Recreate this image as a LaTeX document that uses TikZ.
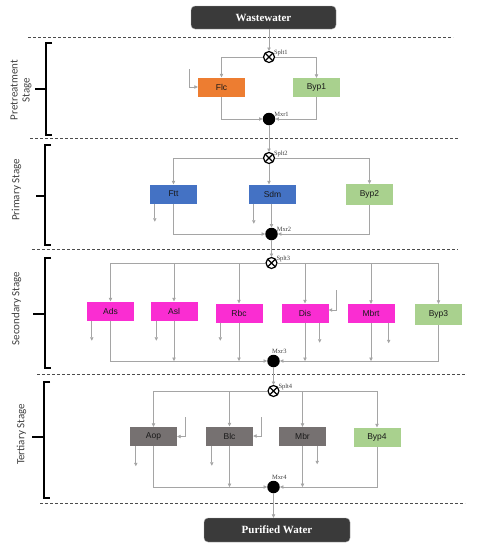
\documentclass[tikz,border=0pt]{standalone}
\usepackage{fontspec}
\setmainfont{Liberation Serif}
\setsansfont{Liberation Sans}
\newfontfamily\stagefont{Carlito}
\usetikzlibrary{arrows.meta,calc}
\definecolor{flow}{RGB}{165,165,165}
\definecolor{termfill}{RGB}{58,58,58}
\definecolor{orangeC}{RGB}{237,125,49}
\definecolor{greenC}{RGB}{169,209,142}
\definecolor{blueC}{RGB}{68,114,196}
\definecolor{pinkC}{RGB}{250,45,210}
\definecolor{grayC}{RGB}{118,113,113}
\begin{document}
\begin{tikzpicture}[x=1pt,y=-1pt,
 arr/.style={draw=flow, line width=0.65pt, -{Triangle[width=3.4pt,length=3.4pt]}},
 proc/.style={rectangle, minimum width=47pt, minimum height=19pt, inner sep=0pt, font=\sffamily\fontsize{8.5}{9}\selectfont, text=black!90},
 term/.style={rectangle, rounded corners=4pt, fill=termfill, draw=gray!70, line width=0.4pt, text=white, font=\bfseries\fontsize{11}{12}\selectfont},
 splitter/.style={circle, draw=black, fill=white, line width=1.2pt, minimum size=11pt, inner sep=0pt,
   path picture={\draw[line width=1.1pt] (path picture bounding box.north west) -- (path picture bounding box.south east) (path picture bounding box.south west) -- (path picture bounding box.north east);}},
 mixer/.style={circle, fill=black, minimum size=12.5pt, inner sep=0pt},
 tag/.style={font=\fontsize{6.5}{7}\selectfont, text=black!75, inner sep=0.5pt},
 stage/.style={rotate=90, align=center, font=\stagefont\fontsize{11}{12}\selectfont, text=black!75},
 sep/.style={draw=black!70, line width=0.7pt, dash pattern=on 3pt off 2pt},
 brk/.style={draw=black, line width=1.3pt},
]
\useasboundingbox (0,0) rectangle (477,550);

% separators
\draw[sep] (28,37) -- (453,37);
\draw[sep] (30,138.5) -- (458,138.5);
\draw[sep] (32,249) -- (458,249);
\draw[sep] (37,374.5) -- (465,374.5);
\draw[sep] (40,503) -- (465,503);

% brackets
\draw[brk] (52,43) -- (46,43) -- (46,135) -- (52,135);
\draw[brk] (46,89) -- (35,89);
\draw[brk] (51,145) -- (45,145) -- (45,245) -- (51,245);
\draw[brk] (45,196) -- (36,196);
\draw[brk] (51,258) -- (45,258) -- (45,368) -- (51,368);
\draw[brk] (45,314) -- (33,314);
\draw[brk] (50,382) -- (44,382) -- (44,498) -- (50,498);
\draw[brk] (44,437) -- (32,437);

% stage labels
\node[stage] (st1) at (21,90) {Pretreatment\\Stage};
\node[stage] (st2) at (16.5,190) {Primary Stage};
\node[stage] (st3) at (16.5,308.5) {Secondary Stage};
\node[stage] (st4) at (21.5,434.5) {Tertiary Stage};

% terminals
\node[term, minimum width=145pt, minimum height=23pt] (ww) at (263.5,17.5) {Wastewater};
\node[term, minimum width=146pt, minimum height=24pt] (pw) at (277,530) {Purified Water};

% ---------- Pretreatment
\node[splitter, label={[tag, anchor=west]north east:Splt1}] (s1) at (269,57) {};
\node[proc, fill=orangeC] (flc) at (221.5,87) {Flc};
\node[proc, fill=greenC] (byp1) at (316.5,87.5) {Byp1};
\node[mixer, label={[tag, anchor=west]north east:Mxr1}] (m1) at (269,119) {};
\coordinate (inflc) at (189,69);
\draw[arr] (ww.south -| s1) -- (s1);
\draw[arr] (s1) -| (flc.north);
\draw[arr] (s1) -| (byp1.north);
\draw[arr] (inflc) |- (flc.west);
\draw[arr] (flc.south) |- (m1.west);
\draw[arr] (byp1.south) |- (m1.east);

% ---------- Primary
\node[splitter, label={[tag, anchor=west]north east:Splt2}] (s2) at (269,158) {};
\node[proc, fill=blueC] (ftt) at (173.5,194) {Ftt};
\node[proc, fill=blueC] (sdm) at (272.5,194) {Sdm};
\node[proc, fill=greenC, minimum height=21pt] (byp2) at (369.5,194.5) {Byp2};
\node[mixer, label={[tag, anchor=west]north east:Mxr2}] (m2) at (271.5,234) {};
\draw[arr] (m1) -- (s2);
\draw[arr] (s2) -| (ftt.north);
\draw[arr] (s2) -- (s2 |- sdm.north);
\draw[arr] (s2) -| (byp2.north);
\draw[arr] ($(ftt.south west)+(5,0)$) -- ++(0,18);
\draw[arr] ($(sdm.south west)+(5,0)$) -- ++(0,20);
\draw[arr] (ftt.south) |- (m2.west);
\draw[arr] (sdm.south -| m2) -- (m2);
\draw[arr] (byp2.south) |- (m2.east);

% ---------- Secondary
\node[splitter, label={[tag, anchor=west]north east:Splt3}] (s3) at (271.5,263) {};
\node[proc, fill=pinkC] (ads) at (110.5,311) {Ads};
\node[proc, fill=pinkC] (asl) at (174,311) {Asl};
\node[proc, fill=pinkC] (rbc) at (239,313) {Rbc};
\node[proc, fill=pinkC] (dis) at (305,313) {Dis};
\node[proc, fill=pinkC] (mbrt) at (371,313.5) {Mbrt};
\node[proc, fill=greenC, minimum height=21pt] (byp3) at (438.5,314.5) {Byp3};
\node[mixer, label={[tag, anchor=south west, xshift=-2pt]north:Mxr3}] (m3) at (273.5,361) {};
\coordinate (indis) at (336,290);
\draw[arr] (m2) -- (s3);
\foreach \b in {ads,asl,rbc,dis,mbrt,byp3} {\draw[arr] (s3) -| (\b.north);}
\draw[arr] (indis) |- ($(dis.east)+(0,-3)$);
\draw[arr] ($(ads.south west)+(5,0)$) -- ++(0,20);
\draw[arr] ($(asl.south west)+(6,0)$) -- ++(0,20);
\draw[arr] ($(rbc.south west)+(5,0)$) -- ++(0,18);
\draw[arr] ($(dis.south east)+(-9,0)$) -- ++(0,20);
\draw[arr] ($(mbrt.south east)+(-6,0)$) -- ++(0,20);
\draw[arr] (ads.south) |- (m3.west);
\foreach \b in {asl,rbc,dis,mbrt} {\draw[arr] (\b.south) -- (\b.south |- m3);}
\draw[arr] (byp3.south) |- (m3.east);

% ---------- Tertiary
\node[splitter, label={[tag, anchor=west]north east:Splt4}] (s4) at (273.5,391) {};
\node[proc, fill=grayC] (aop) at (153.5,436.5) {Aop};
\node[proc, fill=grayC] (blc) at (229.5,436) {Blc};
\node[proc, fill=grayC] (mbr) at (302.5,436.5) {Mbr};
\node[proc, fill=greenC] (byp4) at (377,437) {Byp4};
\node[mixer, label={[tag, anchor=south west, xshift=-2pt]north:Mxr4}] (m4) at (273.5,487) {};
\coordinate (inaop) at (185,417);
\coordinate (inblc) at (261,417);
\draw[arr] (m3) -- (s4);
\foreach \b in {aop,blc,mbr,byp4} {\draw[arr] (s4) -| (\b.north);}
\draw[arr] (inaop) |- (aop.east);
\draw[arr] (inblc) |- (blc.east);
\draw[arr] ($(aop.south west)+(6,0)$) -- ++(0,20);
\draw[arr] ($(blc.south west)+(6,0)$) -- ++(0,20);
\draw[arr] ($(mbr.south east)+(-9,0)$) -- ++(0,18);
\draw[arr] (aop.south) |- (m4.west);
\foreach \b in {blc,mbr} {\draw[arr] (\b.south) -- (\b.south |- m4);}
\draw[arr] (byp4.south) |- (m4.east);
\draw[arr] (m4) -- (m4 |- pw.north);
\end{tikzpicture}
\end{document}
